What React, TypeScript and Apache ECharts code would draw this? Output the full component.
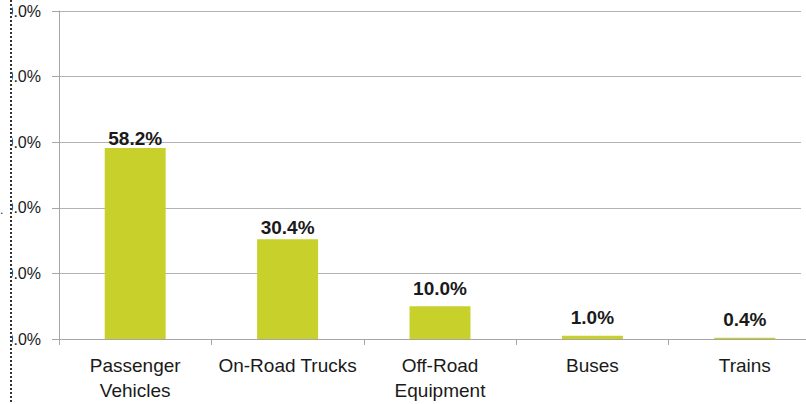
import React, { useEffect, useRef } from "react";
import * as echarts from "echarts";

const categories = ["Passenger\nVehicles", "On-Road Trucks", "Off-Road\nEquipment", "Buses", "Trains"];
const shares = [58.2, 30.4, 10.0, 1.0, 0.4];
const yTicks = { min: 0, max: 100, interval: 20 };

const FONT = "'Liberation Sans', Arial, sans-serif";
const labelGaps = [0, 2, 8, 9, 9];

export default function App() {
  const ref = useRef<HTMLDivElement>(null);
  useEffect(() => {
    if (!ref.current) return;
    const chart = echarts.init(ref.current, null, { renderer: "svg" });
    chart.setOption({
      animation: false,
      backgroundColor: "#ffffff",
      grid: { left: 59, right: -15, top: 11, bottom: 65, containLabel: false, outerBoundsMode: "none" },
      xAxis: {
        type: "category",
        data: categories,
        axisLine: { show: true, lineStyle: { color: "#a6a6a6", width: 1 } },
        axisTick: { show: true, length: 6, alignWithLabel: false, lineStyle: { color: "#a6a6a6" } },
        axisLabel: {
          interval: 0,
          margin: 14,
          fontFamily: FONT,
          fontSize: 19,
          lineHeight: 25,
          color: "#1a1a1a",
        },
      },
      yAxis: {
        type: "value",
        min: yTicks.min,
        max: yTicks.max,
        interval: yTicks.interval,
        axisLine: { show: true, lineStyle: { color: "#a6a6a6", width: 1 } },
        axisTick: { show: true, length: 7, inside: false, lineStyle: { color: "#a6a6a6" } },
        splitLine: { show: true, lineStyle: { color: "#b3b3b3", width: 1 } },
        axisLabel: {
          margin: 18,
          fontFamily: FONT,
          fontSize: 16,
          color: "#1a1a1a",
          formatter: (v: number) => `${v.toFixed(1)}%`,
        },
      },
      series: [
        {
          type: "bar",
          data: shares.map((v, i) => ({ value: v, label: { distance: labelGaps[i] } })),
          barWidth: "40%",
          itemStyle: { color: "#c8d12c" },
          label: {
            show: true,
            position: "top",
            fontFamily: FONT,
            fontSize: 19,
            fontWeight: "bold",
            color: "#1a1a1a",
            formatter: (p: any) => `${Number(p.value).toFixed(1)}%`,
          },
        },
      ],
      graphic: [
        {
          type: "rect",
          z: 100,
          shape: { x: 0, y: 0, width: 12, height: 404 },
          style: { fill: "#ffffff" },
        },
        {
          type: "rect",
          z: 1,
          zlevel: 0,
          shape: { x: 801, y: 0, width: 6, height: 338 },
          style: { fill: "#ffffff" },
        },
        {
          type: "line",
          z: 101,
          shape: { x1: 11, y1: 0, x2: 11, y2: 404 },
          style: { stroke: "#333333", lineWidth: 2, lineDash: [2, 2] },
        },
        {
          type: "text",
          z: 101,
          x: 0,
          y: 204,
          style: { text: ".", fontSize: 12, fill: "#333333", fontFamily: FONT },
        },
      ],
    });
    return () => chart.dispose();
  }, []);
  return (
    <div style={{ position: "fixed", left: 0, top: 0, width: 806, height: 404, background: "#fff" }}>
      <div ref={ref} style={{ width: 806, height: 404 }} />
    </div>
  );
}
